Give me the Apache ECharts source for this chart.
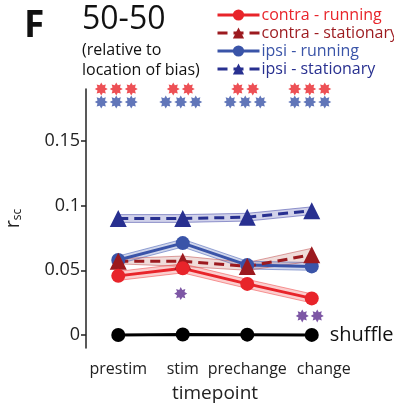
<!DOCTYPE html>
<html>
<head>
<meta charset="utf-8">
<script src="https://cdn.jsdelivr.net/npm/echarts@6/dist/echarts.min.js"></script>
<style>
  html, body { margin: 0; padding: 0; background: #fff; }
  #chart { width: 394px; height: 408px; }
</style>
</head>
<body>
<div id="chart"></div>
<script>
// data
const categories = ['prestim', 'stim', 'prechange', 'change']
const contraRun = [0.0457, 0.0515, 0.0395, 0.0283]
const contraRunErr = [0.0035, 0.0035, 0.0035, 0.0035]
const contraStat = [0.057, 0.057, 0.053, 0.062]
const contraStatErr = [0.002, 0.004, 0.003, 0.005]
const ipsiRun = [0.058, 0.071, 0.054, 0.053]
const ipsiRunErr = [0.003, 0.003, 0.003, 0.003]
const ipsiStat = [0.090, 0.090, 0.091, 0.096]
const ipsiStatErr = [0.003, 0.003, 0.003, 0.003]
const shuffle = [0, 0.0004, 0.0003, 0.0001]
const redStars = [3, 2, 2, 3]
const blueStars = [3, 3, 3, 3]
const purpleStars = [0, 1, 0, 2]
const purpleStarY = [0, 0.032, 0, 0.0148]
const yTicks = [0, 0.05, 0.1, 0.15]

const RED = '#e8242a'
const DARKRED = '#9c1a1f'
const BLUE = '#3a54a8'
const NAVY = '#283090'
const PURPLE = '#5c2d8f'

// 8 spoke asterisk path
function starPath () {
  let d = ''
  for (let k = 0; k < 16; k++) {
    const a = k * Math.PI / 8
    const r = k % 2 === 0 ? 10 : 6.2
    const x = (10 + r * Math.sin(a)).toFixed(2)
    const y = (10 - r * Math.cos(a)).toFixed(2)
    d += (k === 0 ? 'M' : 'L') + x + ' ' + y + ' '
  }
  return 'path://' + d + 'Z'
}
const STAR = starPath()

function starSeries (counts, yFor, color) {
  const data = []
  counts.forEach((n, i) => {
    for (let k = 0; k < n; k++) {
      data.push({
        value: [categories[i], yFor(i)],
        symbolOffset: [(k - (n - 1) / 2) * 15 - 2, 0]
      })
    }
  })
  return {
    type: 'scatter',
    data: data,
    symbol: STAR,
    symbolSize: 13,
    clip: false,
    silent: true,
    itemStyle: { color: color },
    z: 5
  }
}

function band (name, vals, errs, fill, edge) {
  return [
    {
      type: 'line',
      stack: name,
      data: vals.map((v, i) => v - errs[i]),
      symbol: 'none',
      lineStyle: { color: edge, width: 1 },
      silent: true,
      z: 2
    },
    {
      type: 'line',
      stack: name,
      data: errs.map(e => 2 * e),
      symbol: 'none',
      lineStyle: { color: edge, width: 1 },
      areaStyle: { color: fill, opacity: 1 },
      silent: true,
      z: 2
    }
  ]
}

function mainLine (name, vals, color, symbol, dashed, size) {
  return {
    name: name,
    type: 'line',
    data: vals,
    symbol: symbol,
    symbolSize: size,
    lineStyle: { color: color, width: 3, type: dashed ? [10, 6] : 'solid' },
    itemStyle: { color: color },
    z: 3
  }
}

const chartDom = document.getElementById('chart')
const myChart = echarts.init(chartDom, null, { renderer: 'canvas' })

const option = {
  backgroundColor: '#fff',
  animation: false,
  textStyle: { fontFamily: 'Open Sans' },
  graphic: [
    { type: 'text', left: 24, top: 8, style: { text: 'F', font: 'bold 37px "Open Sans"', fill: '#111' } },
    { type: 'text', left: 82, top: 4, style: { text: '50-50', font: '32px "Open Sans"', fill: '#111' } },
    { type: 'text', left: 82, top: 40, style: { text: '(relative to\nlocation of bias)', font: '16px "Open Sans"', lineHeight: 20, fill: '#111' } }
  ],
  legend: {
    orient: 'vertical',
    left: 211,
    top: 2,
    itemWidth: 42,
    itemHeight: 14,
    itemGap: 2,
    lineStyle: { width: 3 },
    textStyle: { fontSize: 16, lineHeight: 15, fontFamily: 'Open Sans', padding: [0, 0, 0, -3] },
    data: [
      { name: 'contra - running', textStyle: { color: RED } },
      { name: 'contra - stationary', textStyle: { color: DARKRED } },
      { name: 'ipsi - running', textStyle: { color: BLUE } },
      { name: 'ipsi - stationary', textStyle: { color: NAVY } }
    ]
  },
  grid: { left: 86, top: 89, width: 258, height: 259, containLabel: false, outerBoundsMode: 'none' },
  xAxis: {
    type: 'category',
    // last label sits a bit right of its point in the figure
    data: categories.map((c, i) => (i === categories.length - 1
      ? { value: c, textStyle: { padding: [0, 0, 0, 24] } }
      : c)),
    boundaryGap: true,
    axisLine: { show: false },
    axisTick: { show: false },
    axisLabel: { interval: 0, fontSize: 16, color: '#222', margin: 13 },
    name: 'timepoint',
    nameLocation: 'middle',
    nameGap: 36,
    nameTextStyle: { fontSize: 19, color: '#222' }
  },
  yAxis: {
    type: 'value',
    min: -0.01,
    max: 0.19,
    splitLine: { show: false },
    axisLine: { show: true, lineStyle: { color: '#222', width: 1.5 } },
    axisTick: { show: true, customValues: yTicks, length: 5, lineStyle: { color: '#222', width: 1.5 } },
    axisLabel: { customValues: yTicks, fontSize: 18, color: '#222', margin: 6 },
    name: '{r|r}{s|sc}',
    nameLocation: 'middle',
    nameRotate: 90,
    nameGap: 62,
    nameTextStyle: {
      rich: {
        r: { fontSize: 20, color: '#222' },
        s: { fontSize: 12, color: '#222', verticalAlign: 'bottom', padding: [9, 0, 0, 0] }
      }
    }
  },
  series: [
    {
      type: 'line',
      data: shuffle,
      symbol: 'circle',
      symbolSize: 14,
      lineStyle: { color: '#000', width: 3 },
      itemStyle: { color: '#000' },
      label: {
        show: true,
        position: 'right',
        distance: 11,
        fontSize: 20,
        color: '#111',
        formatter: p => (p.dataIndex === categories.length - 1 ? 'shuffle' : '')
      },
      z: 3
    },
    ...band('is', ipsiStat, ipsiStatErr, 'rgba(70,75,170,0.25)', 'rgba(70,75,170,0.55)'),
    mainLine('ipsi - stationary', ipsiStat, NAVY, 'triangle', true, 17),
    ...band('ir', ipsiRun, ipsiRunErr, 'rgba(70,95,180,0.25)', 'rgba(70,95,180,0.55)'),
    mainLine('ipsi - running', ipsiRun, BLUE, 'circle', false, 14),
    ...band('cs', contraStat, contraStatErr, 'rgba(170,60,50,0.18)', 'rgba(190,70,70,0.5)'),
    mainLine('contra - stationary', contraStat, DARKRED, 'triangle', true, 17),
    ...band('cr', contraRun, contraRunErr, 'rgba(240,80,80,0.28)', 'rgba(240,80,80,0.55)'),
    mainLine('contra - running', contraRun, RED, 'circle', false, 14),
    starSeries(redStars, () => 0.19, RED),
    starSeries(blueStars, () => 0.18, BLUE),
    starSeries(purpleStars, i => purpleStarY[i], PURPLE)
  ]
}

myChart.setOption(option)
</script>
</body>
</html>
